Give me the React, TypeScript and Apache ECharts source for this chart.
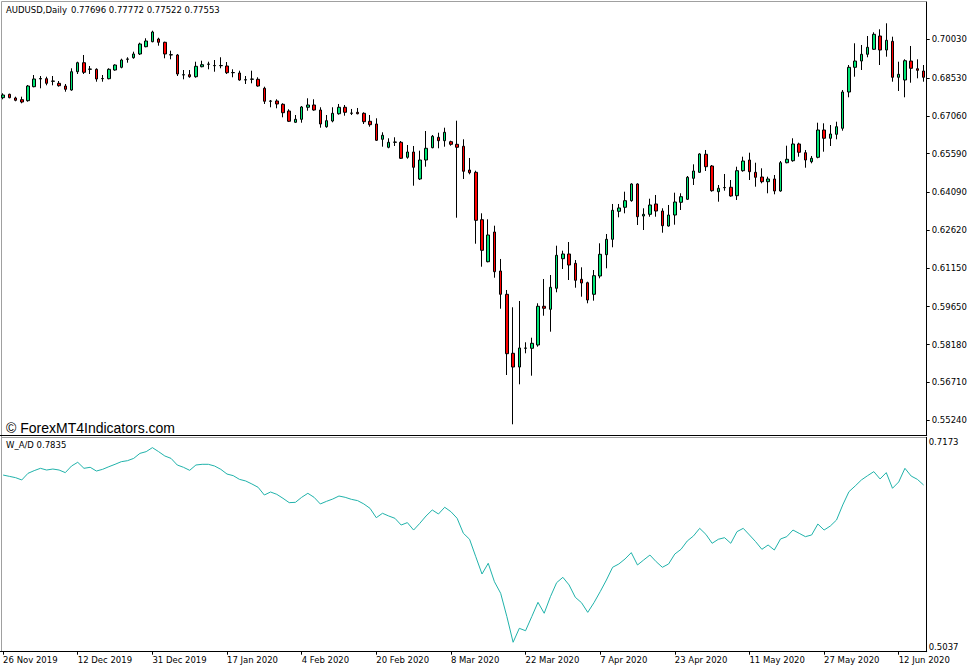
import React, { useEffect, useRef } from "react";
import * as echarts from "echarts";

const symbolTitle = "AUDUSD,Daily";
const headerQuote = [0.77696, 0.77772, 0.77522, 0.77553];
const watermark = "© ForexMT4Indicators.com";
const indicatorName = "W_A/D";
const indicatorValue = 0.7835;

const dateLabels = [
  "26 Nov 2019", "12 Dec 2019", "31 Dec 2019", "17 Jan 2020", "4 Feb 2020", "20 Feb 2020",
  "8 Mar 2020", "22 Mar 2020", "7 Apr 2020", "23 Apr 2020", "11 May 2020", "27 May 2020", "12 Jun 2020",
];
const barsPerDateLabel = 12;

const priceTicks = [0.7003, 0.6853, 0.6706, 0.6559, 0.6409, 0.6262, 0.6115, 0.5965, 0.5818, 0.5671, 0.5524];
const priceDigits = 5;
const priceMin = 0.54669;
const priceMax = 0.71478;
const wadMin = 0.5037;
const wadMax = 0.7173;

const opens = [
  0.67763, 0.67895, 0.67752, 0.67686, 0.67647, 0.6819, 0.68489, 0.685, 0.684, 0.68322,
  0.68217, 0.68062, 0.68772, 0.69121, 0.68865, 0.68865, 0.685, 0.685, 0.68838, 0.68943,
  0.69254, 0.69316, 0.6946, 0.69743, 0.69937, 0.70042, 0.69914, 0.69421, 0.69421, 0.68644,
  0.68656, 0.68578, 0.68966, 0.69059, 0.69005, 0.69005, 0.68993, 0.68733, 0.68722, 0.6845,
  0.68477, 0.68477, 0.68128, 0.67624, 0.67636, 0.67507, 0.67246, 0.66808, 0.66924, 0.67391,
  0.6748, 0.67285, 0.66637, 0.66858, 0.67141, 0.67391, 0.67157, 0.67196, 0.67157, 0.66847,
  0.66742, 0.66148, 0.65838, 0.66032, 0.66032, 0.6545, 0.65655, 0.64607, 0.65344, 0.65822,
  0.66226, 0.66094, 0.66055, 0.65954, 0.65877, 0.64956, 0.64867, 0.63027, 0.61396, 0.62549,
  0.61035, 0.60131, 0.57841, 0.57308, 0.58035, 0.58035, 0.58163, 0.59666, 0.59549, 0.60364,
  0.61513, 0.61696, 0.61334, 0.60713, 0.60581, 0.60131, 0.60841, 0.61669, 0.62266, 0.63353,
  0.63509, 0.63765, 0.64413, 0.6317, 0.63236, 0.63637, 0.63364, 0.62782, 0.63209, 0.63703,
  0.63819, 0.64634, 0.64867, 0.65566, 0.65111, 0.64114, 0.64269, 0.64285, 0.63959, 0.64929,
  0.65344, 0.64867, 0.64684, 0.64502, 0.64607, 0.64141, 0.65239, 0.65317, 0.65966, 0.65628,
  0.65278, 0.6545, 0.66509, 0.66187, 0.66342, 0.66575, 0.67984, 0.68943, 0.69187, 0.69448,
  0.69642, 0.70158, 0.69615, 0.69953, 0.68555, 0.6845, 0.69187, 0.68888, 0.68799,
];
const closes = [
  0.67868, 0.67763, 0.67662, 0.67596, 0.68217, 0.68489, 0.68508, 0.68322, 0.68411, 0.68229,
  0.68089, 0.68772, 0.69121, 0.68749, 0.68877, 0.68489, 0.68508, 0.68865, 0.69032, 0.69226,
  0.69266, 0.6946, 0.69848, 0.69964, 0.70313, 0.69914, 0.6946, 0.69433, 0.68683, 0.68656,
  0.68578, 0.68982, 0.69044, 0.69071, 0.69013, 0.69013, 0.68733, 0.68741, 0.6845, 0.68462,
  0.68489, 0.68217, 0.67624, 0.67636, 0.67519, 0.6718, 0.66847, 0.66924, 0.67402, 0.6748,
  0.67285, 0.66742, 0.6687, 0.67157, 0.67391, 0.67196, 0.67168, 0.67141, 0.66831, 0.66715,
  0.66109, 0.66303, 0.66032, 0.66043, 0.65411, 0.65655, 0.65061, 0.65344, 0.65799, 0.66265,
  0.66094, 0.6642, 0.65954, 0.65838, 0.64906, 0.64851, 0.63003, 0.61839, 0.62433, 0.61008,
  0.60131, 0.57825, 0.57308, 0.58047, 0.58047, 0.58229, 0.59666, 0.59588, 0.60403, 0.61645,
  0.61696, 0.61268, 0.60674, 0.6057, 0.5991, 0.60853, 0.61684, 0.62266, 0.63391, 0.63482,
  0.63765, 0.64413, 0.63143, 0.63236, 0.63598, 0.63364, 0.62794, 0.63209, 0.63714, 0.6392,
  0.64673, 0.64917, 0.65578, 0.65084, 0.64153, 0.64246, 0.64277, 0.63947, 0.64929, 0.65305,
  0.6489, 0.64673, 0.64502, 0.64607, 0.64141, 0.65239, 0.65372, 0.65966, 0.65644, 0.65344,
  0.65411, 0.66509, 0.66187, 0.66354, 0.66637, 0.67984, 0.68943, 0.69187, 0.69448, 0.6972,
  0.70224, 0.69615, 0.69991, 0.68555, 0.68671, 0.69199, 0.68904, 0.68826, 0.68555,
];
const lows = [
  0.67701, 0.6774, 0.67624, 0.67546, 0.67608, 0.68167, 0.68128, 0.68244, 0.68244, 0.6819,
  0.67996, 0.68035, 0.68683, 0.68683, 0.68683, 0.68384, 0.68384, 0.68477, 0.68811, 0.68904,
  0.69121, 0.69277, 0.69421, 0.6972, 0.69914, 0.69782, 0.69293, 0.69254, 0.68605, 0.68477,
  0.68539, 0.68539, 0.68943, 0.68865, 0.68772, 0.68904, 0.68683, 0.68555, 0.68423, 0.68295,
  0.68322, 0.6819, 0.67519, 0.67391, 0.67352, 0.67002, 0.66819, 0.66792, 0.66792, 0.67258,
  0.67258, 0.66598, 0.66598, 0.66808, 0.67103, 0.67064, 0.67091, 0.67118, 0.66742, 0.66637,
  0.66082, 0.65861, 0.65799, 0.65888, 0.65384, 0.65395, 0.64347, 0.64568, 0.65084, 0.65799,
  0.65799, 0.65861, 0.659, 0.63104, 0.64607, 0.64789, 0.62095, 0.61202, 0.61373, 0.60775,
  0.59572, 0.56998, 0.55084, 0.56637, 0.57841, 0.56971, 0.58097, 0.593, 0.58679, 0.60209,
  0.61113, 0.60686, 0.60387, 0.60038, 0.59782, 0.59883, 0.60752, 0.6114, 0.61956, 0.6312,
  0.63275, 0.63726, 0.62821, 0.62627, 0.63143, 0.63143, 0.62522, 0.62759, 0.62833, 0.63403,
  0.63792, 0.64374, 0.64851, 0.64917, 0.64114, 0.63726, 0.64153, 0.6392, 0.63792, 0.6489,
  0.64568, 0.64308, 0.6444, 0.64052, 0.64013, 0.64114, 0.65216, 0.65278, 0.65473, 0.65045,
  0.65216, 0.65411, 0.65667, 0.65888, 0.66148, 0.66482, 0.67779, 0.68578, 0.68838, 0.69332,
  0.69615, 0.69032, 0.69355, 0.68384, 0.68023, 0.67779, 0.68345, 0.68516, 0.68384,
];
const highs = [
  0.67934, 0.67918, 0.67802, 0.67802, 0.68256, 0.68644, 0.68605, 0.68578, 0.68605, 0.68411,
  0.68295, 0.68904, 0.6916, 0.69421, 0.68993, 0.68904, 0.68644, 0.68904, 0.69059, 0.69277,
  0.69332, 0.69549, 0.69898, 0.70069, 0.70364, 0.70092, 0.69937, 0.69588, 0.6946, 0.68838,
  0.68838, 0.6916, 0.69199, 0.6916, 0.69226, 0.69332, 0.69148, 0.68865, 0.68811, 0.68605,
  0.68811, 0.68555, 0.6819, 0.67674, 0.67701, 0.67546, 0.67313, 0.67091, 0.67441, 0.6774,
  0.67701, 0.67391, 0.67091, 0.67391, 0.67519, 0.6748, 0.67325, 0.67364, 0.67196, 0.67091,
  0.66963, 0.6642, 0.66187, 0.66226, 0.66082, 0.65927, 0.65888, 0.65706, 0.6647, 0.66315,
  0.66404, 0.66598, 0.66094, 0.6687, 0.66148, 0.65423, 0.64929, 0.63275, 0.63042, 0.62794,
  0.61502, 0.60298, 0.59627, 0.59871, 0.58268, 0.58446, 0.59782, 0.60725, 0.6088, 0.62018,
  0.61824, 0.62161, 0.61462, 0.61179, 0.6062, 0.61074, 0.62111, 0.62472, 0.63637, 0.63637,
  0.64114, 0.6444, 0.6444, 0.6347, 0.63842, 0.63986, 0.6347, 0.63598, 0.64075, 0.64052,
  0.64723, 0.65177, 0.65605, 0.65733, 0.6515, 0.64374, 0.64801, 0.64568, 0.65084, 0.65473,
  0.65628, 0.65239, 0.65022, 0.64696, 0.64762, 0.65305, 0.659, 0.66187, 0.66016, 0.65733,
  0.655, 0.66792, 0.66769, 0.66703, 0.66831, 0.68062, 0.69032, 0.69875, 0.69809, 0.70158,
  0.70302, 0.70418, 0.70651, 0.70131, 0.6916, 0.69254, 0.6977, 0.69254, 0.69032,
];
const wad = [
  0.6797, 0.6784, 0.6771, 0.6748, 0.6814, 0.6841, 0.6864, 0.6847, 0.6857, 0.6847,
  0.6821, 0.6887, 0.6924, 0.6864, 0.6874, 0.6837, 0.6854, 0.688, 0.6904, 0.693,
  0.694, 0.6963, 0.7013, 0.703, 0.707, 0.703, 0.6987, 0.6963, 0.6897, 0.6874,
  0.6844, 0.6897, 0.6904, 0.6904, 0.6887, 0.6854, 0.6807, 0.6791, 0.6754, 0.6738,
  0.6708, 0.6675, 0.6598, 0.6628, 0.6605, 0.6565, 0.6522, 0.6525, 0.6575, 0.6615,
  0.6575, 0.6509, 0.6535, 0.6558, 0.6588, 0.6575, 0.6555, 0.6542, 0.6509, 0.6465,
  0.6372, 0.6416, 0.6389, 0.6366, 0.6299, 0.6323, 0.6249, 0.6316, 0.6389, 0.6449,
  0.6409, 0.6476, 0.6432, 0.6366, 0.6217, 0.6157, 0.5983, 0.5811, 0.5918, 0.5734,
  0.5619, 0.5386, 0.5131, 0.527, 0.5246, 0.5386, 0.5529, 0.542, 0.5585, 0.5725,
  0.5778, 0.5702, 0.5579, 0.5525, 0.5429, 0.5525, 0.5635, 0.5751, 0.5878, 0.5911,
  0.5961, 0.6024, 0.5901, 0.5951, 0.6, 0.5934, 0.5878, 0.5911, 0.601, 0.6057,
  0.614, 0.619, 0.6266, 0.6206, 0.6117, 0.6157, 0.6173, 0.6117, 0.6233, 0.6266,
  0.62, 0.6133, 0.6057, 0.61, 0.605, 0.616, 0.6183, 0.6249, 0.6216, 0.6183,
  0.62, 0.6309, 0.6249, 0.6289, 0.6349, 0.6499, 0.6631, 0.6688, 0.6748, 0.6791,
  0.6831, 0.6758, 0.6821, 0.6665, 0.6728, 0.6864, 0.6787, 0.6754, 0.6698,
];

const FONT = "Tahoma, 'DejaVu Sans', sans-serif";
const SMALL = 8.5;
const GRID_LEFT = -0.5;
const GRID_RIGHT = 50.3;
const CHART_W = 977;
const CHART_H = 672;

export default function App() {
  const ref = useRef<HTMLDivElement>(null);

  useEffect(() => {
    if (!ref.current) return;
    document.body.style.margin = "0";
    const chart = echarts.init(ref.current, undefined, { renderer: "svg" });
    const categories = opens.map((_, i) => String(i));
    const candleData = opens.map((o, i) => [o, closes[i], lows[i], highs[i]]);
    const isDateTick = (i: number) => i % barsPerDateLabel === 0;

    const staticGraphic: any[] = [
      { id: "bTop", type: "line", silent: true, shape: { x1: 1.5, y1: 1.5, x2: 926.5, y2: 1.5 }, style: { stroke: "#a0a0a0", lineWidth: 1 } },
      { id: "bLeft", type: "line", silent: true, shape: { x1: 1.5, y1: 1.5, x2: 1.5, y2: 652 }, style: { stroke: "#a0a0a0", lineWidth: 1 } },
      { id: "bSep", type: "line", silent: true, shape: { x1: 1.5, y1: 437.5, x2: 926.5, y2: 437.5 }, style: { stroke: "#a0a0a0", lineWidth: 1 } },
      {
        id: "tSym", type: "text", silent: true, x: 6, y: 10,
        style: { text: symbolTitle, fontFamily: FONT, fontSize: SMALL, fill: "#000", verticalAlign: "middle" },
      },
      {
        id: "tQuote", type: "text", silent: true, x: 71, y: 10,
        style: { text: headerQuote.map((v) => v.toFixed(5)).join(" "), fontFamily: FONT, fontSize: SMALL, fill: "#000", verticalAlign: "middle" },
      },
      {
        id: "tMark", type: "text", silent: true, x: 6, y: 427.5,
        style: { text: watermark, fontFamily: "'Liberation Sans', Arial, sans-serif", fontSize: 14, fill: "#000", verticalAlign: "middle" },
      },
      {
        id: "tInd", type: "text", silent: true, x: 6, y: 445,
        style: { text: `${indicatorName} ${indicatorValue.toFixed(4)}`, fontFamily: FONT, fontSize: SMALL, fill: "#000", verticalAlign: "middle" },
      },
    ];

    const option: any = {
      animation: false,
      backgroundColor: "#ffffff",
      tooltip: { show: false },
      grid: [
        { left: GRID_LEFT, right: GRID_RIGHT, top: 2, height: 433 },
        { left: GRID_LEFT, right: GRID_RIGHT, top: 437.3, height: 214.4 },
      ],
      xAxis: [
        {
          type: "category",
          gridIndex: 0,
          data: categories,
          boundaryGap: true,
          axisLine: { show: true, lineStyle: { color: "#000", width: 1 } },
          axisTick: { show: false },
          axisLabel: { show: false },
          splitLine: { show: false },
        },
        {
          type: "category",
          gridIndex: 1,
          data: categories,
          boundaryGap: true,
          axisLine: { show: true, lineStyle: { color: "#000", width: 1 } },
          axisTick: {
            show: true,
            interval: (i: number) => isDateTick(i),
            alignWithLabel: true,
            length: 3,
            lineStyle: { color: "#000" },
          },
          axisLabel: {
            interval: (i: number) => isDateTick(i),
            formatter: (_v: string, i: number) => dateLabels[i / barsPerDateLabel] ?? "",
            align: "left",
            margin: 4,
            fontFamily: FONT,
            fontSize: SMALL,
            color: "#000",
          },
          splitLine: { show: false },
        },
      ],
      yAxis: [
        {
          type: "value",
          gridIndex: 0,
          position: "right",
          min: priceMin,
          max: priceMax,
          splitLine: { show: false },
          axisLine: { show: true, lineStyle: { color: "#000", width: 1 } },
          axisTick: { show: true, customValues: priceTicks, length: 3, lineStyle: { color: "#000" } },
          axisLabel: { show: false },
        },
        {
          type: "value",
          gridIndex: 1,
          position: "right",
          min: wadMin,
          max: wadMax,
          splitLine: { show: false },
          axisLine: { show: true, lineStyle: { color: "#000", width: 1 } },
          axisTick: { show: false },
          axisLabel: {
            customValues: [wadMin, wadMax],
            margin: 2,
            verticalAlignMinLabel: "bottom",
            verticalAlignMaxLabel: "top",
            fontFamily: FONT,
            fontSize: SMALL,
            color: "#000",
          },
        },
      ],
      series: [
        {
          type: "candlestick",
          xAxisIndex: 0,
          yAxisIndex: 0,
          data: candleData,
          barWidth: 3,
          itemStyle: {
            color: "#00E676",
            color0: "#FF0000",
            borderColor: "#000",
            borderColor0: "#000",
            borderColorDoji: "#000",
            borderWidth: 1,
          },
        },
        {
          type: "line",
          xAxisIndex: 1,
          yAxisIndex: 1,
          data: wad,
          symbol: "none",
          lineStyle: { color: "#20B2AA", width: 1 },
          itemStyle: { color: "#20B2AA" },
        },
      ],
      graphic: staticGraphic,
    };
    chart.setOption(option);

    // price tick labels (5 decimals, MT4 style) positioned with the price axis' own scale
    const axisRightX = CHART_W - GRID_RIGHT;
    const priceLabels = priceTicks.map((v, i) => {
      const y = chart.convertToPixel({ yAxisIndex: 0 } as any, v) as number;
      return {
        id: "pl" + i,
        type: "text",
        silent: true,
        x: axisRightX + 5,
        y,
        style: {
          text: v.toFixed(priceDigits),
          fontFamily: FONT,
          fontSize: SMALL,
          fill: "#000",
          verticalAlign: "middle",
          align: "left",
        },
      };
    });
    chart.setOption({ graphic: [...staticGraphic, ...priceLabels] });
    return () => chart.dispose();
  }, []);

  return (
    <div style={{ position: "fixed", left: 0, top: 0, width: CHART_W, height: CHART_H, background: "#fff" }}>
      <div ref={ref} style={{ width: CHART_W, height: CHART_H }} />
    </div>
  );
}
